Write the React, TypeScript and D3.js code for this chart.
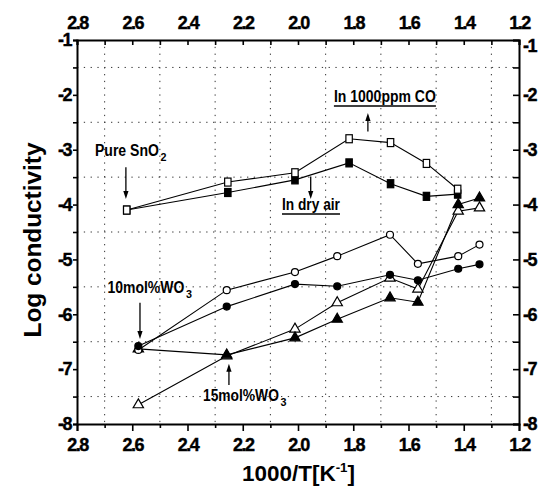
import React, { useRef, useEffect } from 'react';
import * as d3 from 'd3';

// 1000/T values for each group of samples
const pureX = [2.62, 2.254, 2.011, 1.815, 1.665, 1.535, 1.422];
const wo3X = [2.578, 2.258, 2.011, 1.858, 1.667, 1.566, 1.42, 1.343];

// log conductivity
const pureCO = [-4.1, -3.59, -3.42, -2.8, -2.87, -3.25, -3.72];
const pureAir = [-4.1, -3.78, -3.55, -3.24, -3.62, -3.85, -3.81];
const w10CO = [-6.65, -5.56, -5.23, -4.94, -4.55, -5.08, -4.94, -4.73];
const w10Air = [-6.58, -5.86, -5.45, -5.49, -5.28, -5.38, -5.17, -5.09];
const w15CO = [-7.65, -6.76, -6.27, -5.79, -5.34, -5.54, -4.12, -4.06];
const w15Air = [-6.63, -6.74, -6.43, -6.09, -5.7, -5.78, -4.0, -3.88];

const xTicks = [2.8, 2.6, 2.4, 2.2, 2.0, 1.8, 1.6, 1.4, 1.2];
const xMinor = [2.7, 2.5, 2.3, 2.1, 1.9, 1.7, 1.5, 1.3];
const yTicks = [-1, -2, -3, -4, -5, -6, -7, -8];
const yMinor = [-1.5, -2.5, -3.5, -4.5, -5.5, -6.5, -7.5];

type Series = { xs: number[]; ys: number[]; shape: 'square' | 'circle' | 'triangle'; filled: boolean };

// drawing order: later ones sit on top
const series: Series[] = [
  { xs: pureX, ys: pureAir, shape: 'square', filled: true },
  { xs: pureX, ys: pureCO, shape: 'square', filled: false },
  { xs: wo3X, ys: w15CO, shape: 'triangle', filled: false },
  { xs: wo3X, ys: w15Air, shape: 'triangle', filled: true },
  { xs: wo3X, ys: w10CO, shape: 'circle', filled: false },
  { xs: wo3X, ys: w10Air, shape: 'circle', filled: true },
];

// annotation labels: text, subscript, x, y (baseline, data units), width px, underline
const labels = [
  { text: 'Pure SnO', sub: '2', x: 2.735, y: -3.11, w: 64, underline: false },
  { text: 'In 1000ppm CO', sub: '', x: 1.87, y: -2.13, w: 102, underline: true },
  { text: 'In dry air', sub: '', x: 2.058, y: -4.1, w: 58, underline: true },
  { text: '10mol%WO', sub: '3', x: 2.69, y: -5.61, w: 77, underline: false },
  { text: '15mol%WO', sub: '3', x: 2.344, y: -7.58, w: 76, underline: false },
];

// arrows: x, tail y, head y
const arrows = [
  { x: 2.623, y0: -3.32, y1: -3.9 },
  { x: 1.747, y0: -2.67, y1: -2.33 },
  { x: 1.954, y0: -3.49, y1: -3.9 },
  { x: 2.572, y0: -5.79, y1: -6.45 },
  { x: 2.25, y0: -7.29, y1: -6.9 },
];

const W = 540;
const H = 498;
const margin = { top: 40, right: 21, bottom: 74, left: 77 };
const FONT = '"Liberation Sans", Arial, sans-serif';

const App: React.FC = () => {
  const svgRef = useRef<SVGSVGElement>(null);

  useEffect(() => {
    if (!svgRef.current) return;
    const svg = d3.select(svgRef.current);
    svg.selectAll('*').remove();

    const x = d3.scaleLinear().domain([2.8, 1.2]).range([margin.left, W - margin.right]);
    const y = d3.scaleLinear().domain([-8, -1]).range([H - margin.bottom, margin.top]);

    svg.append('rect').attr('width', W).attr('height', H).attr('fill', '#fff');

    // dotted grid at minor positions
    const grid = svg.append('g').attr('stroke', '#333').attr('stroke-width', 1).attr('stroke-dasharray', '1.3,5.5');
    xMinor.forEach(v => {
      grid.append('line').attr('x1', x(v)).attr('x2', x(v)).attr('y1', y(-1)).attr('y2', y(-8));
    });
    yMinor.forEach(v => {
      grid.append('line').attr('x1', x(2.8)).attr('x2', x(1.2)).attr('y1', y(v)).attr('y2', y(v));
    });

    const fmtX = (d: d3.NumberValue) => (xTicks.includes(+d) ? d3.format('.1f')(d) : '');
    const fmtY = (d: d3.NumberValue) => (Number.isInteger(+d) ? '-' + Math.abs(+d) : '');
    const allX = [...xTicks, ...xMinor];
    const allY = [...yTicks, ...yMinor];

    const styleAxis = (g: d3.Selection<SVGGElement, unknown, null, undefined>) => {
      g.attr('font-family', null).attr('font-size', null);
      g.select('.domain').attr('stroke', '#000').attr('stroke-width', 2);
      g.selectAll('.tick line').attr('stroke', '#000').attr('stroke-width', 1.6);
      g.selectAll('.tick text')
        .attr('fill', '#000')
        .attr('font-family', FONT)
        .attr('font-weight', 'bold')
        .attr('font-size', 18)
        .attr('letter-spacing', -1.5)
        .attr('stroke', '#000')
        .attr('stroke-width', 0.4);
    };

    const bottom = svg.append('g')
      .attr('transform', `translate(0,${y(-8)})`)
      .call(d3.axisBottom(x).tickValues(allX).tickFormat(fmtX).tickSizeOuter(0).tickSize(7).tickPadding(7));
    bottom.selectAll<SVGLineElement, number>('.tick line').attr('y2', d => (xTicks.includes(d) ? 7 : 4));
    styleAxis(bottom);

    const top = svg.append('g')
      .attr('transform', `translate(0,${y(-1)})`)
      .call(d3.axisTop(x).tickValues(allX).tickFormat(fmtX).tickSizeOuter(0).tickSize(-5).tickPadding(11));
    styleAxis(top);

    const left = svg.append('g')
      .attr('transform', `translate(${x(2.8)},0)`)
      .call(d3.axisLeft(y).tickValues(allY).tickFormat(fmtY).tickSizeOuter(0).tickSize(4).tickPadding(2));
    styleAxis(left);

    const right = svg.append('g')
      .attr('transform', `translate(${x(1.2)},0)`)
      .call(d3.axisRight(y).tickValues(allY).tickFormat(fmtY).tickSizeOuter(0).tickSize(-6).tickPadding(4));
    styleAxis(right);
    // the top-right "-1" sits a little lower, clear of the top "1.2"
    right.selectAll<SVGTextElement, number>('.tick text').filter(d => d === -1).attr('y', 6);

    // lines
    const line = d3.line<[number, number]>().x(d => x(d[0])).y(d => y(d[1]));
    series.forEach(s => {
      const pts: [number, number][] = s.xs.map((v, i) => [v, s.ys[i]]);
      svg.append('path').attr('d', line(pts)).attr('fill', 'none').attr('stroke', '#000').attr('stroke-width', 1.1);
    });

    // markers
    const tri = d3.symbol().type(d3.symbolTriangle).size(46);
    series.forEach(s => {
      const g = svg.append('g')
        .attr('fill', s.filled ? '#000' : '#fff')
        .attr('stroke', '#000')
        .attr('stroke-width', 1.2);
      s.xs.forEach((v, i) => {
        const cx = x(v);
        const cy = y(s.ys[i]);
        if (s.shape === 'square') {
          g.append('rect').attr('x', cx - 3.2).attr('y', cy - 4).attr('width', 6.4).attr('height', 8);
        } else if (s.shape === 'circle') {
          g.append('circle').attr('cx', cx).attr('cy', cy).attr('r', 3.5);
        } else {
          g.append('path').attr('d', tri()).attr('transform', `translate(${cx},${cy})`);
        }
      });
    });

    // arrows
    arrows.forEach(a => {
      const ax = x(a.x);
      const y0 = y(a.y0);
      const y1 = y(a.y1);
      const dir = y1 > y0 ? 1 : -1;
      svg.append('line').attr('x1', ax).attr('x2', ax).attr('y1', y0).attr('y2', y1 - dir * 6)
        .attr('stroke', '#000').attr('stroke-width', 1.3);
      svg.append('path')
        .attr('d', `M${ax - 2.6},${y1 - dir * 8} L${ax + 2.6},${y1 - dir * 8} L${ax},${y1} Z`)
        .attr('fill', '#000');
    });

    // condensed text: squeeze horizontally to a given width
    const squeezed = (tx: number, ty: number, size: number, w: number, str: string) => {
      const t = svg.append('text')
        .attr('font-family', FONT).attr('font-weight', 'bold').attr('font-size', size)
        .attr('fill', '#000')
        .text(str);
      const natural = (t.node() as SVGTextElement).getComputedTextLength() || w;
      t.attr('transform', `translate(${tx},${ty}) scale(${w / natural},1)`);
      return t;
    };

    // labels
    labels.forEach(l => {
      const lx = x(l.x);
      const ly = y(l.y);
      squeezed(lx, ly, 17, l.w, l.text);
      if (l.sub) squeezed(lx + l.w + 1.5, ly + 5, 11, 6, l.sub);
      if (l.underline) {
        svg.append('line').attr('x1', lx).attr('x2', lx + l.w).attr('y1', ly + 4).attr('y2', ly + 4)
          .attr('stroke', '#000').attr('stroke-width', 1.6);
      }
    });

    // axis titles
    const xt = svg.append('text')
      .attr('x', 242).attr('y', 481)
      .attr('textLength', 113).attr('lengthAdjust', 'spacingAndGlyphs')
      .attr('font-family', FONT).attr('font-weight', 'bold').attr('font-size', 22)
      .attr('fill', '#000');
    xt.append('tspan').text('1000/T[K');
    xt.append('tspan').attr('dy', -9).attr('font-size', 13).text('-1');
    xt.append('tspan').attr('dy', 9).text(']');

    svg.append('text')
      .attr('transform', `translate(41,${240}) rotate(-90)`)
      .attr('text-anchor', 'middle')
      .attr('textLength', 195).attr('lengthAdjust', 'spacingAndGlyphs')
      .attr('font-family', FONT).attr('font-weight', 'bold').attr('font-size', 23)
      .attr('fill', '#000')
      .text('Log conductivity');
  }, []);

  return (
    <svg
      ref={svgRef}
      width={W}
      height={H}
      style={{ position: 'absolute', left: 0, top: 0, display: 'block' }}
    />
  );
};

export default App;
